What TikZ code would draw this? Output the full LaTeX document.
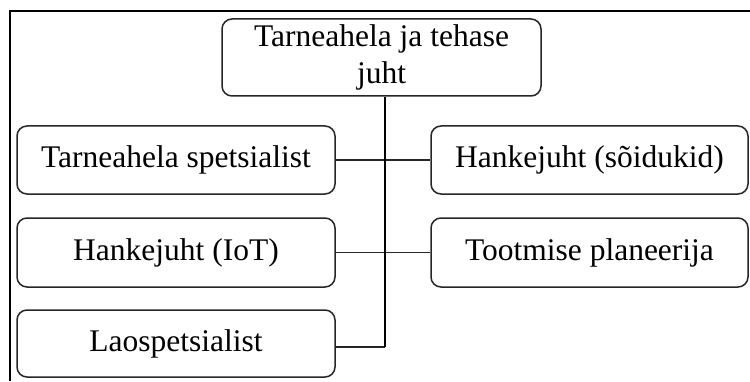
\documentclass[tikz,border=0pt]{standalone}
\usepackage{fontspec}
\setmainfont{Liberation Serif}
\begin{document}
\begin{tikzpicture}[x=1pt,y=1pt,
  role/.style={draw=black!85, line width=1.5pt, rounded corners=10pt, fill=white,
    font=\fontsize{31.5}{37}\selectfont, align=center, inner sep=0pt,
    minimum width=318pt},
  link/.style={draw=black!85, line width=1.4pt},
  spine/.style={draw=black, line width=2.2pt}]
\useasboundingbox (0,0) rectangle (750,381);
% partial frame on the left and top
\draw[line width=2pt] (10,0) -- (10,370) -- (750,370);

\node[role, minimum width=319pt, minimum height=77pt] (top) at (381.5,323.5)
  {Tarneahela ja tehase\\juht};
\node[role, minimum height=68pt] (l1) at (176,221) {Tarneahela spetsialist};
\node[role, minimum width=317pt, minimum height=68pt] (r1) at (589.5,221) {Hankejuht (sõidukid)};
\node[role, minimum height=69pt] (l2) at (176,128.5) {Hankejuht (IoT)};
\node[role, minimum width=317pt, minimum height=69pt] (r2) at (589.5,128.5) {Tootmise planeerija};
\node[role, minimum height=67pt] (l3) at (176,37.5) {Laospetsialist};

\coordinate (j3) at (385,34);
\draw[link] (l1.east) -- (r1.west);
\draw[link] (l2.east) -- (r2.west);
\draw[link] (l3.east |- j3) -- (j3);
\draw[spine] (top.south -| j3) -- (j3);
\end{tikzpicture}
\end{document}
